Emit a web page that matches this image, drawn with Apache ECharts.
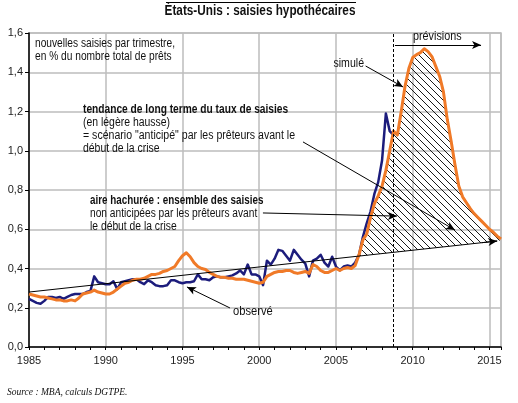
<!DOCTYPE html>
<html><head><meta charset="utf-8">
<script src="https://cdn.jsdelivr.net/npm/echarts@6/dist/echarts.min.js"></script>
<style>html,body{margin:0;padding:0;background:#fff}#c{width:518px;height:403px}</style>
</head><body><div id="c"></div>
<script>
// ---- data (quarterly, first value = 1985 Q1) ----
const startYear = 1985;
const quarterStep = 0.25;
const observed = [
  0.245,0.235,0.225,0.22,
  0.235,0.255,0.255,0.25,
  0.255,0.245,0.255,0.265,
  0.27,0.27,0.27,0.28,
  0.285,0.36,0.33,0.325,
  0.32,0.32,0.335,0.295,
  0.33,0.335,0.34,0.345,
  0.345,0.33,0.32,0.34,
  0.33,0.315,0.31,0.31,
  0.315,0.34,0.34,0.33,
  0.325,0.33,0.33,0.335,
  0.37,0.345,0.345,0.34,
  0.355,0.36,0.355,0.355,
  0.36,0.365,0.375,0.39,
  0.37,0.42,0.37,0.37,
  0.36,0.315,0.44,0.42,
  0.45,0.495,0.49,0.465,
  0.44,0.495,0.47,0.445,
  0.425,0.36,0.44,0.45,
  0.47,0.43,0.41,0.46,
  0.41,0.39,0.41,0.415,
  0.41,0.43,0.47,0.56,
  0.63,0.69,0.78,0.84,
  0.95,1.19,1.10,1.08
];
const simulated = [
  0.27,0.265,0.26,0.255,
  0.255,0.25,0.245,0.24,
  0.24,0.235,0.235,0.24,
  0.235,0.25,0.27,0.275,
  0.28,0.29,0.28,0.275,
  0.27,0.27,0.28,0.295,
  0.31,0.325,0.33,0.34,
  0.345,0.345,0.35,0.36,
  0.37,0.37,0.375,0.385,
  0.39,0.40,0.41,0.44,
  0.465,0.48,0.46,0.43,
  0.41,0.40,0.395,0.38,
  0.37,0.36,0.355,0.355,
  0.35,0.35,0.345,0.345,
  0.345,0.34,0.335,0.33,
  0.325,0.33,0.36,0.37,
  0.38,0.385,0.385,0.39,
  0.39,0.38,0.375,0.38,
  0.385,0.375,0.42,0.41,
  0.39,0.38,0.38,0.39,
  0.40,0.39,0.40,0.405,
  0.40,0.415,0.47,0.545,
  0.575,0.66,0.73,0.77,
  0.82,0.90,1.00,1.10,
  1.08,1.20,1.33,1.42,
  1.475,1.49,1.50,1.52,
  1.505,1.48,1.43,1.38,
  1.30,1.16,1.05,0.93,
  0.82,0.765,0.735,0.705,
  0.68,0.66,0.64,0.62,
  0.60,0.585,0.565,0.55
];
const trendStart = [1985, 0.28];
const trendEnd = [2015.5, 0.54];
const forecastStart = 2008.75;
const xTickLabels = [1985,1990,1995,2000,2005,2010,2015];
const yTickLabels = ['0,0','0,2','0,4','0,6','0,8','1,0','1,2','1,4','1,6'];

// ---- derived ----
const obsData = observed.map((v,i)=>[startYear+i*quarterStep, v]);
const simData = simulated.map((v,i)=>[startYear+i*quarterStep, v]);
const trendData = [trendStart, trendEnd];
function trendAt(x){ return trendStart[1] + (x-trendStart[0])*(trendEnd[1]-trendStart[1])/(trendEnd[0]-trendStart[0]); }
// hatch polygon: simulated above trend after crisis
const hatchPts = [];
(function(){
  let i0 = -1;
  for (let i=1;i<simData.length;i++){
    if (simData[i][0] > 2005 && simData[i][1] >= trendAt(simData[i][0]) && simData[i-1][1] < trendAt(simData[i-1][0])) { i0 = i; break; }
  }
  const a = simData[i0-1], b = simData[i0];
  const da = a[1]-trendAt(a[0]), db = b[1]-trendAt(b[0]);
  const t = da/(da-db);
  const cx = a[0] + t*(b[0]-a[0]);
  hatchPts.push([cx, trendAt(cx)]);
  for (let i=i0;i<simData.length;i++) hatchPts.push(simData[i]);
  const lx = simData[simData.length-1][0];
  hatchPts.push([lx, trendAt(lx)]);
})();

const tile = document.createElement('canvas');
tile.width = 7; tile.height = 7;
(function(){
  const c = tile.getContext('2d');
  c.strokeStyle = '#1a1a1a'; c.lineWidth = 1;
  c.beginPath();
  for (let k=-1;k<=1;k++){ c.moveTo(0, k*7); c.lineTo(7, 7+k*7); }
  c.stroke();
})();

const F = "'Liberation Sans',Arial,sans-serif";

function txt(x, y, s, opt){
  opt = opt || {};
  return {type:'text', x:x, y:y, silent:true, z:100, scaleX:(opt.sx||0.86),
    style:{text:s, font:(opt.font||('12px '+F)), fill:'#111', textAlign:opt.align||'left', textVerticalAlign:'middle'}};
}

const chart = echarts.init(document.getElementById('c'), null, {renderer:'canvas'});
chart.setOption({
  animation:false,
  backgroundColor:'#fff',
  grid:{left:29, right:17, top:33, bottom:56, show:true, borderColor:'#bdbdbd', borderWidth:1.5, containLabel:false, outerBoundsMode:'none'},
  xAxis:[
    {type:'value', min:1985, max:2015.75, interval:5, position:'bottom',
     axisLine:{show:true, onZero:false, lineStyle:{color:'#000', width:1.5}},
     axisTick:{show:false},
     axisLabel:{formatter:function(v){ return xTickLabels.indexOf(v)>=0 ? String(v) : ''; }, margin:8, fontSize:11, color:'#222', fontFamily:F, showMaxLabel:false},
     splitLine:{show:true, lineStyle:{color:'#bdbdbd', width:1.5}}},
    {type:'value', min:1985, max:2015.75, interval:1, position:'bottom',
     axisLine:{show:false, onZero:false},
     axisTick:{show:true, length:3, lineStyle:{color:'#000', width:1}},
     axisLabel:{show:false}, splitLine:{show:false}}
  ],
  yAxis:{type:'value', min:0, max:1.6, interval:0.2,
    axisLine:{show:true, onZero:false, lineStyle:{color:'#000', width:1.5}},
    axisTick:{show:true, length:4, lineStyle:{color:'#000', width:1}},
    axisLabel:{formatter:function(v, idx){ return yTickLabels[idx]; }, margin:6, fontSize:11, color:'#222', fontFamily:F},
    splitLine:{show:true, lineStyle:{color:'#bdbdbd', width:1.5}}},
  series:[
    {type:'custom', name:'hatch', coordinateSystem:'cartesian2d', xAxisIndex:0, yAxisIndex:0, silent:true, z:1,
     data:[[2010, 1]],
     renderItem:function(params, api){
       const pts = hatchPts.map(p=>api.coord(p));
       return {type:'polygon', shape:{points:pts}, style:{fill:{image:tile, repeat:'repeat'}, stroke:null}};
     }},
    {type:'line', name:'observé', data:obsData, xAxisIndex:0, symbol:'none', showSymbol:false, z:3, silent:true,
     lineStyle:{color:'#1c1c7c', width:2.5, join:'round'}},
    {type:'line', name:'simulé', data:simData, xAxisIndex:0, symbol:'none', showSymbol:false, z:4, silent:true,
     lineStyle:{color:'#f07a28', width:3, join:'round'}},
    {type:'line', name:'tendance', data:trendData, xAxisIndex:0, symbol:'none', showSymbol:false, z:5, silent:true,
     lineStyle:{color:'#000', width:1},
     markLine:{silent:true, animation:false, symbol:['none','arrow'], symbolSize:[6,9], label:{show:false},
       lineStyle:{color:'#000', width:1, type:'solid'}, emphasis:{disabled:true},
       data:[
         [{coord:[2014.5, trendAt(2014.5)]},{coord:trendEnd}],
         [{coord:[2006.93,1.432]},{coord:[2009.37,1.325]}],
         [{coord:[2002.85,1.045]},{coord:[2012.75,0.596]}],
         [{coord:[2000.24,0.683]},{coord:[2008.97,0.667]}],
         [{coord:[1998.09,0.199]},{coord:[1995.29,0.306]}],
         [{coord:[2008.84,1.539]},{coord:[2014.45,1.539]}],
         [{coord:[forecastStart,0], symbol:'none', lineStyle:{type:[3,2], width:1}},{coord:[forecastStart,1.6], symbol:'none'}]
       ]}}
  ],
  graphic:[
    {type:'line', silent:true, shape:{x1:166,y1:2.5,x2:356,y2:2.5}, style:{stroke:'#000', lineWidth:1}},
    txt(260, 11, 'États-Unis : saisies hypothécaires', {font:'bold 14px '+F, align:'center', sx:0.84}),
    txt(35, 44, 'nouvelles saisies par trimestre,', {sx:0.85}),
    txt(35, 57, 'en % du nombre total de prêts', {sx:0.85}),
    txt(83, 110, 'tendance de long terme du taux de saisies', {font:'bold 12px '+F, sx:0.85}),
    txt(83, 123, '(en légère hausse)', {sx:0.87}),
    txt(83, 136, '= scénario "anticipé" par les prêteurs avant le', {sx:0.88}),
    txt(83, 149, 'début de la crise', {sx:0.87}),
    txt(90, 201, 'aire hachurée : ensemble des saisies', {font:'bold 12px '+F, sx:0.82}),
    txt(90, 214, 'non anticipées par les prêteurs avant', {sx:0.85}),
    txt(90, 227, 'le début de la crise', {sx:0.86}),
    txt(364, 64, 'simulé', {align:'right', sx:0.88}),
    txt(413, 37, 'prévisions', {sx:0.9}),
    txt(233, 312, 'observé', {sx:0.93}),
    txt(7, 392, 'Source : MBA, calculs DGTPE.', {font:"italic 9.5px 'Liberation Serif','DejaVu Serif',serif", sx:1})
  ]
});
</script></body></html>
